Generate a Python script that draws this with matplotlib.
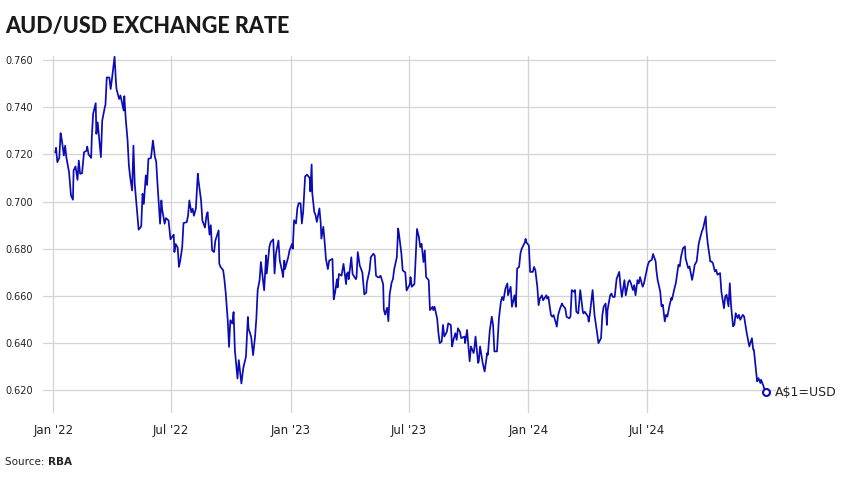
import matplotlib
matplotlib.use("Agg")
import matplotlib.pyplot as plt
import pandas as pd

# AUD/USD daily rate (RBA)
dates_2022 = ["01-04", "01-05", "01-07", "01-10", "01-12", "01-14", "01-17", "01-19", "01-21", "01-25",
              "01-28", "01-31", "02-01", "02-04", "02-07", "02-09", "02-11", "02-14", "02-17", "02-21",
              "02-22", "02-24", "02-28", "03-01", "03-03", "03-07", "03-08", "03-10", "03-15", "03-17",
              "03-21", "03-22", "03-24", "03-28", "03-30", "04-01", "04-05", "04-07", "04-08", "04-12",
              "04-14", "04-19", "04-20", "04-22", "04-25", "04-27", "04-29", "05-02", "05-04", "05-06",
              "05-12", "05-16", "05-18", "05-20", "05-23", "05-25", "05-27", "05-31", "06-03", "06-06",
              "06-08", "06-10", "06-14", "06-16", "06-17", "06-21", "06-23", "06-27", "06-30", "07-05",
              "07-06", "07-08", "07-11", "07-13", "07-15", "07-18", "07-20", "07-25", "07-27", "07-29",
              "08-01", "08-03", "08-05", "08-08", "08-11", "08-12", "08-16", "08-18", "08-22", "08-24",
              "08-26", "08-29", "08-31", "09-02", "09-05", "09-07", "09-12", "09-13", "09-15", "09-19",
              "09-21", "09-23", "09-26", "09-28", "09-30", "10-03", "10-05", "10-07", "10-11", "10-13",
              "10-17", "10-20", "10-24", "10-27", "10-28", "11-01", "11-04", "11-07", "11-09", "11-11",
              "11-14", "11-16", "11-18", "11-21", "11-24", "11-25", "11-29", "12-01", "12-05", "12-07",
              "12-09", "12-13", "12-15", "12-19", "12-20", "12-22", "12-23", "12-28", "12-30"]
rate_2022 = [0.7209, 0.7228, 0.7167, 0.7185, 0.7290, 0.7260, 0.7195, 0.7237, 0.7185, 0.7125,
             0.7026, 0.7008, 0.7132, 0.7149, 0.7092, 0.7174, 0.7118, 0.7120, 0.7209, 0.7216,
             0.7233, 0.7200, 0.7185, 0.7273, 0.7372, 0.7417, 0.7287, 0.7336, 0.7188, 0.7343,
             0.7400, 0.7410, 0.7526, 0.7526, 0.7477, 0.7520, 0.7614, 0.7512, 0.7477, 0.7435,
             0.7450, 0.7386, 0.7447, 0.7357, 0.7259, 0.7153, 0.7103, 0.7047, 0.7237, 0.7075,
             0.6881, 0.6895, 0.7033, 0.6990, 0.7111, 0.7070, 0.7181, 0.7185, 0.7259, 0.7190,
             0.7170, 0.7075, 0.6906, 0.7005, 0.6970, 0.6906, 0.6930, 0.6920, 0.6840, 0.6860,
             0.6786, 0.6820, 0.6805, 0.6723, 0.6750, 0.6807, 0.6909, 0.6913, 0.6941, 0.7005,
             0.6955, 0.6970, 0.6940, 0.6970, 0.7118, 0.7090, 0.7005, 0.6920, 0.6890, 0.6935,
             0.6955, 0.6860, 0.6900, 0.6793, 0.6786, 0.6835, 0.6878, 0.6737, 0.6723, 0.6709,
             0.6667, 0.6610, 0.6497, 0.6384, 0.6497, 0.6483, 0.6532, 0.6370, 0.6250, 0.6328,
             0.6229, 0.6296, 0.6342, 0.6511, 0.6462, 0.6427, 0.6349, 0.6427, 0.6504, 0.6624,
             0.6667, 0.6744, 0.6695, 0.6624, 0.6772, 0.6695, 0.6807, 0.6828, 0.6840, 0.6695,
             0.6778, 0.6835, 0.6750, 0.6700, 0.6680, 0.6750, 0.6714, 0.6764, 0.6793]

dates_2023 = ["01-03", "01-04", "01-06", "01-09", "01-11", "01-13", "01-16", "01-18", "01-20", "01-23",
              "01-26", "01-30", "01-31", "02-02", "02-03", "02-06", "02-08", "02-10", "02-14", "02-16",
              "02-17", "02-20", "02-22", "02-24", "02-27", "03-01", "03-06", "03-08", "03-10", "03-13",
              "03-14", "03-16", "03-20", "03-23", "03-27", "03-28", "03-30", "03-31", "04-04", "04-06",
              "04-11", "04-12", "04-14", "04-17", "04-19", "04-21", "04-24", "04-27", "04-28", "05-02",
              "05-04", "05-08", "05-10", "05-12", "05-15", "05-17", "05-19", "05-23", "05-24", "05-26",
              "05-29", "05-31", "06-02", "06-05", "06-07", "06-09", "06-13", "06-15", "06-16", "06-20",
              "06-22", "06-26", "06-28", "07-03", "07-04", "07-06", "07-10", "07-11", "07-14", "07-17",
              "07-19", "07-21", "07-24", "07-26", "07-28", "08-01", "08-03", "08-07", "08-08", "08-10",
              "08-14", "08-16", "08-18", "08-21", "08-23", "08-25", "08-29", "08-31", "09-04", "09-06",
              "09-08", "09-11", "09-13", "09-15", "09-18", "09-20", "09-25", "09-26", "09-29", "10-03",
              "10-05", "10-09", "10-10", "10-12", "10-16", "10-17", "10-19", "10-23", "10-26", "10-30",
              "10-31", "11-03", "11-06", "11-08", "11-10", "11-14", "11-17", "11-20", "11-22", "11-24",
              "11-27", "11-30", "12-01", "12-05", "12-07", "12-11", "12-13", "12-15", "12-18", "12-20",
              "12-22", "12-27", "12-28", "12-29"]
rate_2023 = [0.6821, 0.6800, 0.6921, 0.6907, 0.6971, 0.6993, 0.6993, 0.6907, 0.6957, 0.7107,
             0.7114, 0.7100, 0.7043, 0.7157, 0.7036, 0.6957, 0.6943, 0.6914, 0.6971, 0.6907,
             0.6843, 0.6893, 0.6829, 0.6757, 0.6714, 0.6750, 0.6757, 0.6586, 0.6614, 0.6671,
             0.6636, 0.6693, 0.6686, 0.6736, 0.6650, 0.6693, 0.6700, 0.6671, 0.6764, 0.6693,
             0.6671, 0.6679, 0.6786, 0.6729, 0.6714, 0.6700, 0.6607, 0.6614, 0.6657, 0.6707,
             0.6764, 0.6779, 0.6771, 0.6686, 0.6679, 0.6679, 0.6686, 0.6650, 0.6543, 0.6521,
             0.6550, 0.6493, 0.6607, 0.6657, 0.6671, 0.6714, 0.6764, 0.6886, 0.6870, 0.6780,
             0.6708, 0.6700, 0.6623, 0.6650, 0.6680, 0.6639, 0.6650, 0.6702, 0.6884, 0.6849,
             0.6807, 0.6821, 0.6744, 0.6793, 0.6680, 0.6667, 0.6540, 0.6554, 0.6540, 0.6554,
             0.6505, 0.6442, 0.6400, 0.6407, 0.6477, 0.6428, 0.6449, 0.6484, 0.6477, 0.6386,
             0.6414, 0.6442, 0.6414, 0.6463, 0.6449, 0.6421, 0.6428, 0.6400, 0.6456, 0.6323,
             0.6386, 0.6358, 0.6372, 0.6428, 0.6316, 0.6323, 0.6386, 0.6316, 0.6280, 0.6358,
             0.6351, 0.6456, 0.6512, 0.6477, 0.6365, 0.6365, 0.6505, 0.6575, 0.6596, 0.6582,
             0.6632, 0.6653, 0.6603, 0.6639, 0.6554, 0.6603, 0.6554, 0.6716, 0.6723, 0.6779,
             0.6800, 0.6828, 0.6842, 0.6828]

dates_2024 = ["01-02", "01-04", "01-08", "01-10", "01-12", "01-15", "01-17", "01-19", "01-22", "01-24",
              "01-29", "01-30", "02-01", "02-05", "02-07", "02-09", "02-12", "02-14", "02-16", "02-19",
              "02-22", "02-23", "02-27", "02-29", "03-04", "03-06", "03-08", "03-11", "03-13", "03-15",
              "03-18", "03-21", "03-25", "03-26", "03-28", "04-02", "04-03", "04-05", "04-09", "04-11",
              "04-12", "04-16", "04-18", "04-22", "04-24", "04-26", "04-29", "05-01", "05-02", "05-06",
              "05-08", "05-10", "05-13", "05-16", "05-17", "05-20", "05-22", "05-24", "05-28", "05-30",
              "06-03", "06-05", "06-07", "06-10", "06-12", "06-14", "06-17", "06-19", "06-21", "06-25",
              "06-27", "06-28", "07-03", "07-05", "07-09", "07-11", "07-15", "07-16", "07-18", "07-22",
              "07-24", "07-26", "07-29", "07-31", "08-02", "08-05", "08-08", "08-09", "08-13", "08-15",
              "08-19", "08-21", "08-23", "08-26", "08-29", "08-30", "09-03", "09-05", "09-09", "09-11",
              "09-13", "09-16", "09-19", "09-20", "09-24", "09-26", "09-30", "10-01", "10-03", "10-07",
              "10-09", "10-11", "10-14", "10-16", "10-18", "10-22", "10-24", "10-28", "10-30", "11-01",
              "11-04", "11-06", "11-08", "11-11", "11-13", "11-15", "11-18", "11-20", "11-22", "11-26",
              "11-28", "12-02", "12-04", "12-06", "12-10", "12-12", "12-13", "12-18", "12-20", "12-23",
              "12-24", "12-27", "12-31"]
rate_2024 = [0.6814, 0.6702, 0.6702, 0.6723, 0.6709, 0.6639, 0.6561, 0.6589, 0.6603, 0.6582,
             0.6603, 0.6589, 0.6596, 0.6519, 0.6512, 0.6519, 0.6491, 0.6470, 0.6519, 0.6547,
             0.6568, 0.6561, 0.6547, 0.6512, 0.6505, 0.6512, 0.6625, 0.6618, 0.6625, 0.6533,
             0.6526, 0.6625, 0.6533, 0.6526, 0.6533, 0.6512, 0.6491, 0.6526, 0.6625, 0.6554,
             0.6519, 0.6442, 0.6400, 0.6421, 0.6519, 0.6554, 0.6568, 0.6477, 0.6540, 0.6603,
             0.6610, 0.6596, 0.6596, 0.6674, 0.6680, 0.6702, 0.6639, 0.6596, 0.6667, 0.6603,
             0.6660, 0.6667, 0.6653, 0.6625, 0.6646, 0.6603, 0.6667, 0.6653, 0.6680, 0.6639,
             0.6653, 0.6667, 0.6732, 0.6746, 0.6753, 0.6778, 0.6746, 0.6711, 0.6668, 0.6619,
             0.6556, 0.6563, 0.6492, 0.6520, 0.6513, 0.6556, 0.6591, 0.6584, 0.6633, 0.6654,
             0.6732, 0.6725, 0.6767, 0.6802, 0.6810, 0.6760, 0.6718, 0.6725, 0.6668, 0.6697,
             0.6732, 0.6746, 0.6817, 0.6831, 0.6873, 0.6887, 0.6937, 0.6880, 0.6824, 0.6746,
             0.6746, 0.6739, 0.6704, 0.6711, 0.6690, 0.6697, 0.6619, 0.6548, 0.6598, 0.6605,
             0.6556, 0.6654, 0.6556, 0.6471, 0.6478, 0.6527, 0.6506, 0.6520, 0.6499, 0.6520,
             0.6513, 0.6443, 0.6414, 0.6386, 0.6421, 0.6372, 0.6372, 0.6238, 0.6252, 0.6231,
             0.6245, 0.6224, 0.6191]

tick_dates = ["2022-01-01", "2022-07-01", "2023-01-01", "2023-07-01", "2024-01-01", "2024-07-01"]
tick_labels = ["Jan '22", "Jul '22", "Jan '23", "Jul '23", "Jan '24", "Jul '24"]
y_ticks = [0.62, 0.64, 0.66, 0.68, 0.70, 0.72, 0.74, 0.76]

LINE = "#0c0cb4"
GRID = "#d4d4d4"
TEXT = "#222222"

dates = pd.to_datetime(["2022-" + d for d in dates_2022]
                       + ["2023-" + d for d in dates_2023]
                       + ["2024-" + d for d in dates_2024])
rate = rate_2022 + rate_2023 + rate_2024

plt.rcParams["font.family"] = ["DejaVu Sans"]

fig = plt.figure(figsize=(8.42, 4.82), dpi=100)
ax = fig.add_axes([0.0511, 0.1432, 0.8705, 0.7396])

ax.plot(dates, rate, color=LINE, lw=1.25, solid_joinstyle="round", clip_on=False, zorder=3)
ax.plot(dates[-1:], rate[-1:], "o", ms=5, mfc="white", mec=LINE, mew=1.5, zorder=4, clip_on=False)
ax.annotate("A\\$1=USD", xy=(dates[-1], rate[-1]), xytext=(6.5, 0), textcoords="offset points",
            va="center", ha="left", fontsize=9, color=TEXT, annotation_clip=False)

ax.set_xlim(pd.Timestamp("2021-12-16"), pd.Timestamp("2025-01-16"))
ax.set_ylim(0.6104, 0.7615)
ax.set_xticks(pd.to_datetime(tick_dates))
ax.set_xticklabels(tick_labels, fontsize=8.5, color=TEXT)
ax.set_yticks(y_ticks)
ax.set_yticklabels([f"{v:.3f}" for v in y_ticks], fontsize=7, color=TEXT)
ax.tick_params(length=0)
ax.tick_params(axis="y", pad=7)
ax.tick_params(axis="x", pad=8)
ax.grid(True, color=GRID, lw=0.9)
ax.set_axisbelow(True)
for s in ax.spines.values():
    s.set_visible(False)

fig.text(5 / 842, 1 - 33 / 482, "AUD/USD EXCHANGE RATE", fontsize=15.5, fontweight="black",
         family=["Lato", "DejaVu Sans"], color="#1a1a1a", va="baseline")
fig.text(5 / 842, 1 - 462 / 482, "Source: ", fontsize=7.5, color=TEXT, va="center")
fig.text(48 / 842, 1 - 462 / 482, "RBA", fontsize=7.5, fontweight="bold", color=TEXT, va="center")

fig.savefig("out.png", dpi=100)
plt.close(fig)
